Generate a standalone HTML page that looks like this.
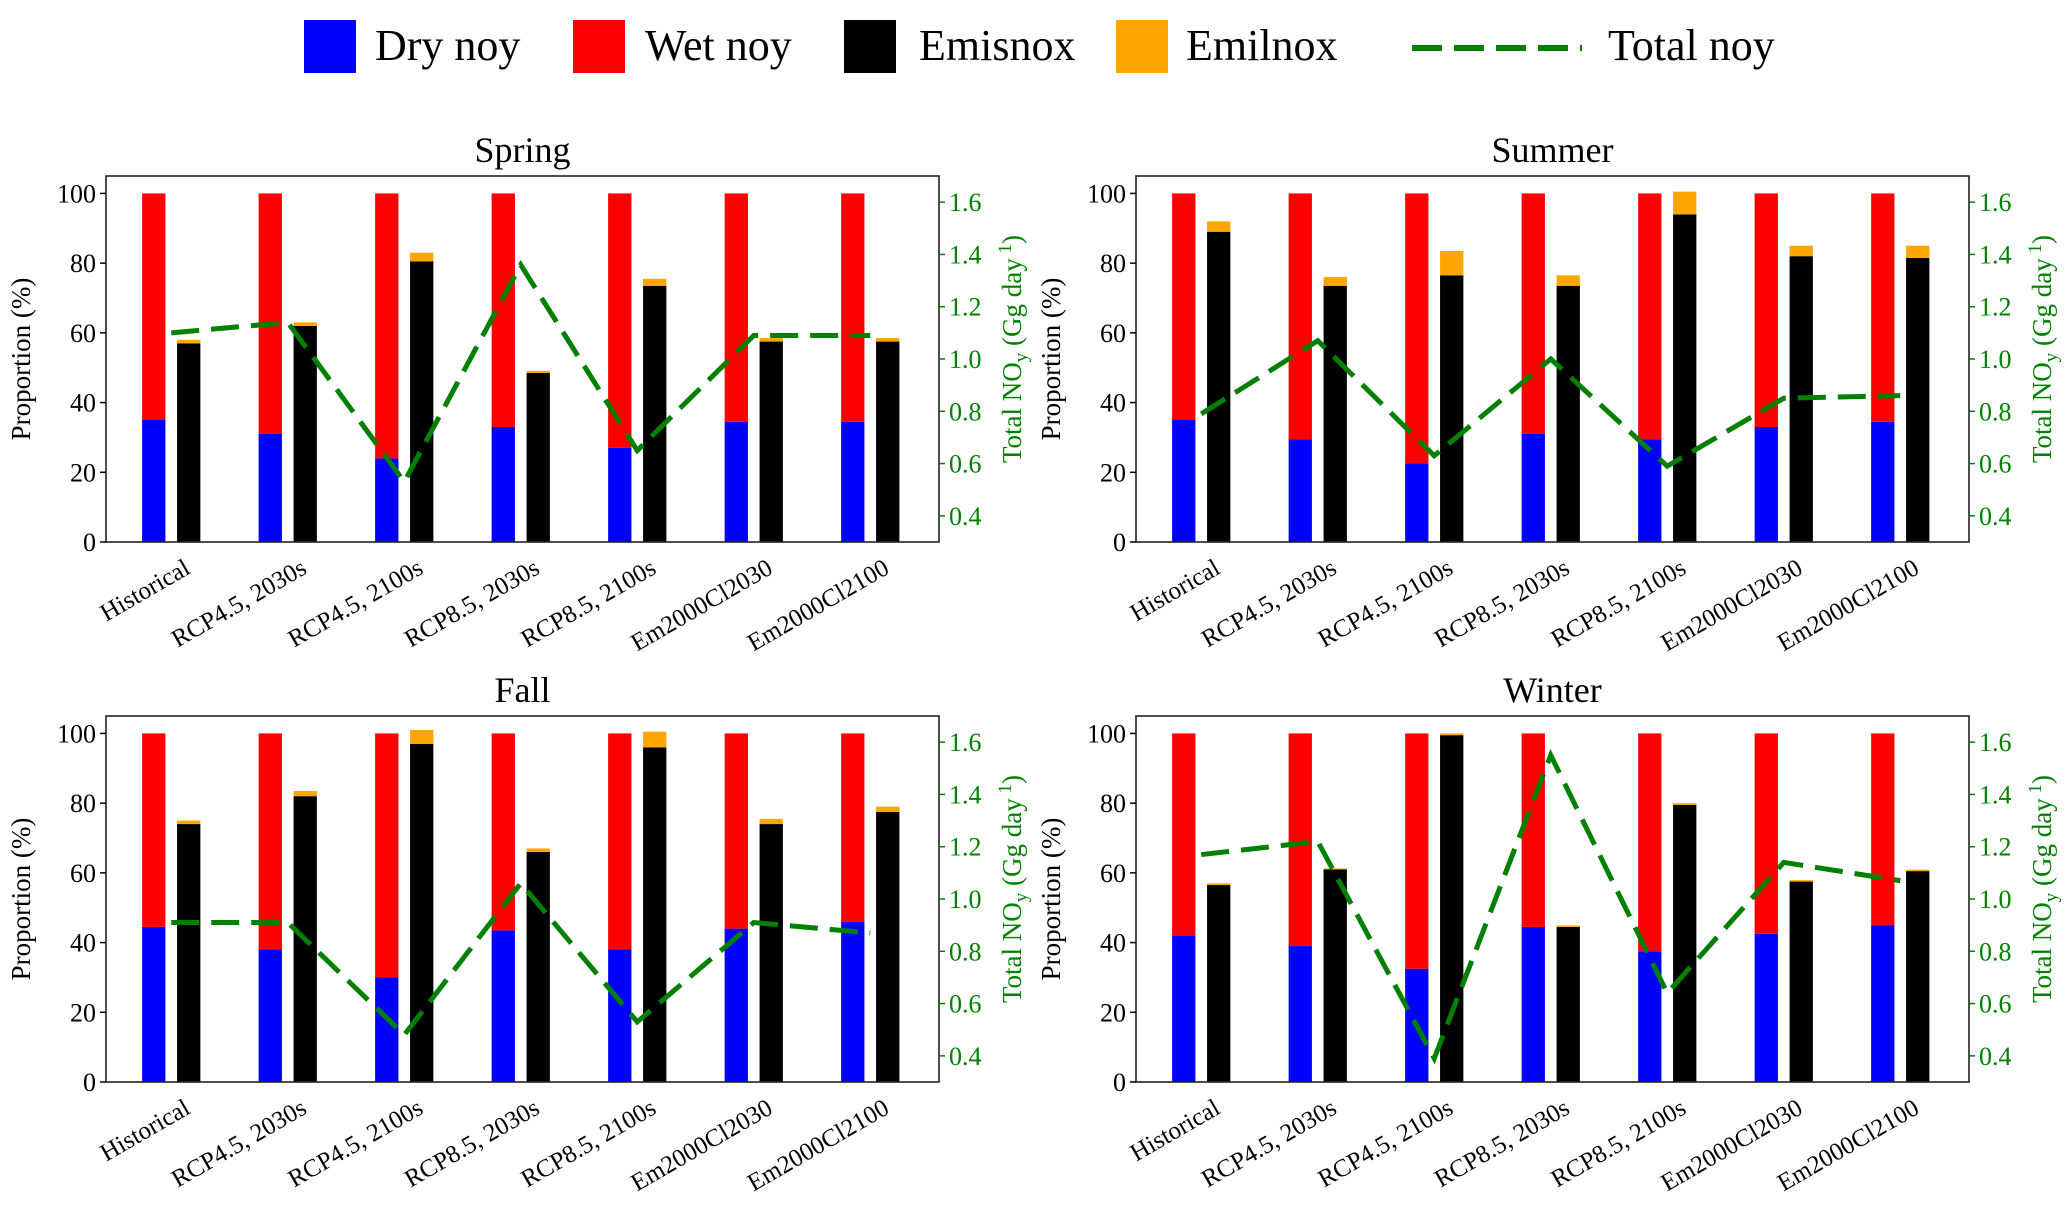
<!DOCTYPE html>
<html><head><meta charset="utf-8">
<style>
html,body{margin:0;padding:0;background:#fff;}
svg{display:block;font-family:"Liberation Serif",serif;}
</style></head>
<body>
<svg id="chart" width="2067" height="1209" viewBox="0 0 2067 1209" xmlns="http://www.w3.org/2000/svg">
  <g>
    <rect x="304" y="20" width="52" height="53" fill="#0000ff"/>
    <text x="375" y="60" font-size="44">Dry noy</text>
    <rect x="573" y="20" width="52" height="53" fill="#ff0000"/>
    <text x="645" y="60" font-size="44">Wet noy</text>
    <rect x="844" y="20" width="52" height="53" fill="#000"/>
    <text x="919" y="60" font-size="44">Emisnox</text>
    <rect x="1116" y="20" width="52" height="53" fill="#ffa500"/>
    <text x="1186" y="60" font-size="44">Emilnox</text>
    <line x1="1412" y1="48" x2="1582" y2="48" stroke="#008000" stroke-width="6" stroke-dasharray="30 12"/>
    <text x="1608" y="60" font-size="44">Total noy</text>
  </g>
</svg>
<script>
const categories = ["Historical","RCP4.5, 2030s","RCP4.5, 2100s","RCP8.5, 2030s","RCP8.5, 2100s","Em2000Cl2030","Em2000Cl2100"];
const seasons = ["Spring","Summer","Fall","Winter"];
const leftTicks = [0,20,40,60,80,100];
const rightTicks = [0.4,0.6,0.8,1.0,1.2,1.4,1.6];
const rightTickLabels = ["0.4","0.6","0.8","1.0","1.2","1.4","1.6"];
// Dry noy proportion (%) (remainder to 100 is wet noy)
const springDry = [35,31,24,33,27,34.5,34.5];
const summerDry = [35,29.5,22.5,31,29.5,33,34.5];
const fallDry = [44.5,38,30,43.5,38,44,46];
const winterDry = [42,39,32.5,44.5,37.5,42.5,45];
// Emisnox (%)
const springEmis = [57,62,80.5,48.5,73.5,57.5,57.5];
const summerEmis = [89,73.5,76.5,73.5,94,82,81.5];
const fallEmis = [74,82,97,66,96,74,77.5];
const winterEmis = [56.5,61,99.5,44.5,79.5,57.5,60.5];
// Emilnox (%) stacked on Emisnox
const springEmil = [1,1,2.5,0.6,2,1,1];
const summerEmil = [3,2.5,7,3,6.5,3,3.5];
const fallEmil = [1,1.5,4,1,4.5,1.5,1.5];
const winterEmil = [0.5,0.3,0.5,0.4,0.5,0.4,0.4];
// Total NOy (Gg day-1)
const springTotal = [1.10,1.14,0.53,1.36,0.65,1.09,1.09];
const summerTotal = [0.79,1.07,0.63,1.00,0.59,0.85,0.86];
const fallTotal = [0.91,0.91,0.48,1.06,0.53,0.91,0.87];
const winterTotal = [1.17,1.22,0.39,1.55,0.64,1.14,1.07];

const dryAll=[springDry,summerDry,fallDry,winterDry];
const emisAll=[springEmis,summerEmis,fallEmis,winterEmis];
const emilAll=[springEmil,summerEmil,fallEmil,winterEmil];
const totAll=[springTotal,summerTotal,fallTotal,winterTotal];

const NS="http://www.w3.org/2000/svg";
const svg=document.getElementById('chart');
function mk(tag,attrs,parent){const e=document.createElementNS(NS,tag);for(const k in attrs)e.setAttribute(k,attrs[k]);(parent||svg).appendChild(e);return e;}
const panels=[{l:106,t:176},{l:1136,t:176},{l:106,t:716},{l:1136,t:716}];
const W=833,H=366;
panels.forEach((p,si)=>{
  const g=mk('g',{});
  
  
  const xS=v=>p.l+(v+0.56)/(7.15)*W;
  const yL=v=>p.t+H-(v/105)*H;
  const yR=v=>p.t+H-((v-0.3)/1.4)*H;
  const bw=0.2*W/7.15;
  const title=mk('text',{x:p.l+W/2,y:p.t-14,'font-size':36,'text-anchor':'middle'},g);
  title.textContent=seasons[si];
  
  
  categories.forEach((c,i)=>{
    const dry=dryAll[si][i],emis=emisAll[si][i],emil=emilAll[si][i];
    const xb=xS(i-0.15)-bw/2, xk=xS(i+0.15)-bw/2;
    let r=mk('rect',{x:xb,y:yL(dry),width:bw,height:yL(0)-yL(dry),fill:'#0000ff'},g);
    
    
    r=mk('rect',{x:xb,y:yL(100),width:bw,height:yL(dry)-yL(100),fill:'#ff0000'},g);
    
    
    r=mk('rect',{x:xk,y:yL(emis),width:bw,height:yL(0)-yL(emis),fill:'#000'},g);
    
    
    r=mk('rect',{x:xk,y:yL(emis+emil),width:bw,height:yL(emis)-yL(emis+emil),fill:'#ffa500'},g);
    
    
    const tx=xS(i)+12, ty=p.t+H+16;
    const lab=mk('text',{x:tx,y:ty,'font-size':25,'text-anchor':'end',transform:`rotate(-30 ${tx} ${ty})`,'dominant-baseline':'hanging'},g);
    lab.textContent=c;
    
    
  });
  const pts=totAll[si].map((v,i)=>xS(i)+','+yR(v)).join(' ');
  const ln=mk('polyline',{points:pts,fill:'none',stroke:'#008000','stroke-width':5,'stroke-dasharray':'28 12'},g);
  
  
  const fr=mk('rect',{x:p.l,y:p.t,width:W,height:H,fill:'none',stroke:'#222','stroke-width':1.6},g);
  
  
  leftTicks.forEach(v=>{
    mk('line',{x1:p.l-6,x2:p.l,y1:yL(v),y2:yL(v),stroke:'#000','stroke-width':1.5},g);
    const t=mk('text',{x:p.l-10,y:yL(v)+9,'font-size':26,'text-anchor':'end'},g);
    t.textContent=v;
    
    
  });
  rightTicks.forEach((v,k)=>{
    mk('line',{x1:p.l+W,x2:p.l+W+6,y1:yR(v),y2:yR(v),stroke:'#008000','stroke-width':1.5},g);
    const t=mk('text',{x:p.l+W+10,y:yR(v)+9,'font-size':26,fill:'#008000'},g);
    t.textContent=rightTickLabels[k];
    
    
  });
  const yl=mk('text',{x:p.l-76,y:p.t+H/2,'font-size':27,'text-anchor':'middle',transform:`rotate(-90 ${p.l-76} ${p.t+H/2})`},g);
  yl.textContent='Proportion (%)';
  
  
  const rx=p.l+W+82, ry=p.t+H/2-10;
  const yr=mk('text',{x:rx,y:ry,'font-size':27,'text-anchor':'middle',fill:'#008000',transform:`rotate(-90 ${rx} ${ry})`},g);
  yr.innerHTML='Total NO<tspan dy="6" font-size="19">y</tspan><tspan dy="-6"> (Gg day</tspan><tspan dy="-10" font-size="19">  1</tspan><tspan dy="10">)</tspan>';
  
  
});
</script>
</body></html>
